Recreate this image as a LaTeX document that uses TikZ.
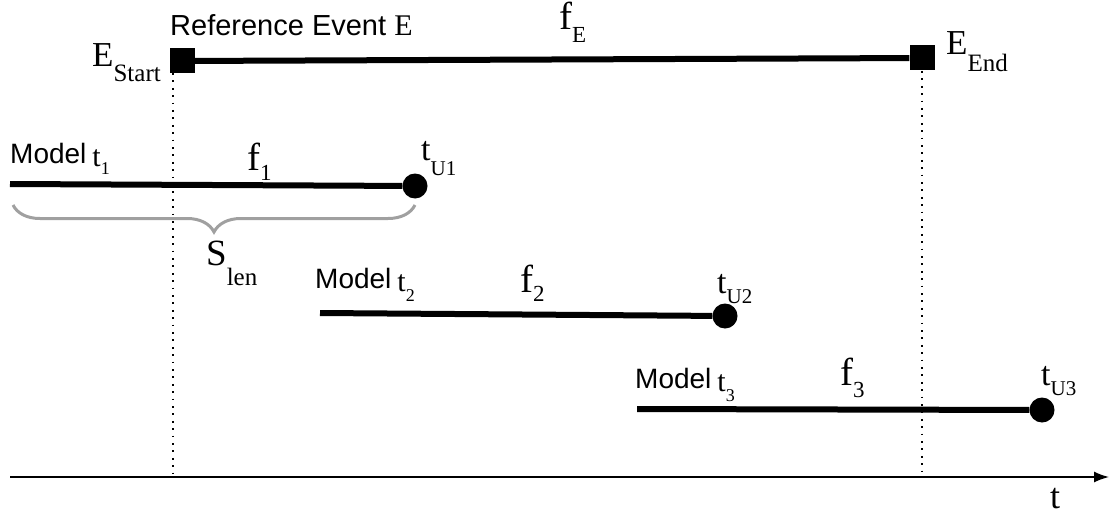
\documentclass[tikz,border=0pt]{standalone}
\usepackage{fontspec}
\setmainfont{Liberation Serif}
\setsansfont{Liberation Sans}
\usetikzlibrary{decorations.pathreplacing,arrows.meta}
\definecolor{bracegray}{RGB}{160,160,160}
\newcommand\mainsub[5]{{\fontsize{#1}{#1}\selectfont #2}{\fontsize{#3}{#3}\selectfont\raisebox{-#4}{#5}}}
\newcommand\modeltxt[2]{{\sffamily\fontsize{28pt}{28pt}\selectfont Model}\hspace{6pt}\raisebox{-3pt}{\mainsub{30pt}{t}{18pt}{#1}{#2}}}
\begin{document}
\begin{tikzpicture}[x=1pt,y=-1pt,
  bar/.style={line width=6pt},
  dotline/.style={line width=1.8pt, dash pattern=on 1.8pt off 5.6pt},
  sq/.style={fill=black, minimum size=25pt, inner sep=0pt, draw=none},
  enddot/.style={circle, fill=black, minimum size=25pt, inner sep=0pt, draw=none},
  txt/.style={inner sep=0pt, anchor=base west},
  brc/.style={draw=bracegray, line width=3pt, decorate, decoration={brace, mirror, amplitude=27pt}},
  axis/.style={line width=1.5pt, -{Latex[length=15pt,width=11pt]}}]
\useasboundingbox (0,0) rectangle (1110,516);

% reference event
\node[sq] (es) at (182,61) {};
\node[sq] (ee) at (922,58) {};
\draw[bar] (es) -- (ee);
\coordinate (esd) at (173,73);
\coordinate (esb) at (173,473);
\coordinate (eed) at (922,71);
\coordinate (eeb) at (922,473);
\draw[dotline] (esd) -- (esb);
\draw[dotline] (eed) -- (eeb);

\node[txt] (reflbl) at (170,36) {{\sffamily\fontsize{29pt}{29pt}\selectfont Reference Event }{\fontsize{30pt}{30pt}\selectfont E}};
\node[txt] (eslbl) at (92,67) {\mainsub{35pt}{E}{25pt}{15pt}{Start}};
\node[txt] (eelbl) at (946,55) {\mainsub{35pt}{E}{25pt}{17pt}{End}};
\node[txt] (felbl) at (559,30) {\mainsub{39pt}{f}{23pt}{13pt}{E}};

% model 1
\coordinate (m1s) at (10,184);
\node[enddot] (u1) at (415,186) {};
\draw[bar] (m1s) -- (u1);
\node[txt] (m1lbl) at (10,163) {\modeltxt{8pt}{1}};
\node[txt] (f1lbl) at (247,170) {\mainsub{39pt}{f}{23pt}{10pt}{1}};
\node[txt] (u1lbl) at (421,160) {\mainsub{34pt}{t}{21pt}{15pt}{U1}};
\coordinate (b1) at (13,205);
\coordinate (b2) at (415,205);
\draw[brc] (b1) -- (b2);
\node[txt] (slbl) at (206,265) {\mainsub{37pt}{S}{25pt}{20pt}{len}};

% model 2
\coordinate (m2s) at (320,313);
\node[enddot] (u2) at (725,316) {};
\draw[bar] (m2s) -- (u2);
\node[txt] (m2lbl) at (315,288) {\modeltxt{10pt}{2}};
\node[txt] (f2lbl) at (520,292) {\mainsub{39pt}{f}{23pt}{9pt}{2}};
\node[txt] (u2lbl) at (717,293) {\mainsub{34pt}{t}{21pt}{10pt}{U2}};

% model 3
\coordinate (m3s) at (637,409);
\node[enddot] (u3) at (1042,410) {};
\draw[bar] (m3s) -- (u3);
\node[txt] (m3lbl) at (635,388) {\modeltxt{10pt}{3}};
\node[txt] (f3lbl) at (840,385) {\mainsub{39pt}{f}{23pt}{12pt}{3}};
\node[txt] (u3lbl) at (1041,385) {\mainsub{34pt}{t}{21pt}{10pt}{U3}};

% axis
\coordinate (ax1) at (10,477);
\coordinate (ax2) at (1109,477);
\draw[axis] (ax1) -- (ax2);
\node[txt] (tlbl) at (1050,508) {{\fontsize{36pt}{36pt}\selectfont t}};
\end{tikzpicture}
\end{document}
